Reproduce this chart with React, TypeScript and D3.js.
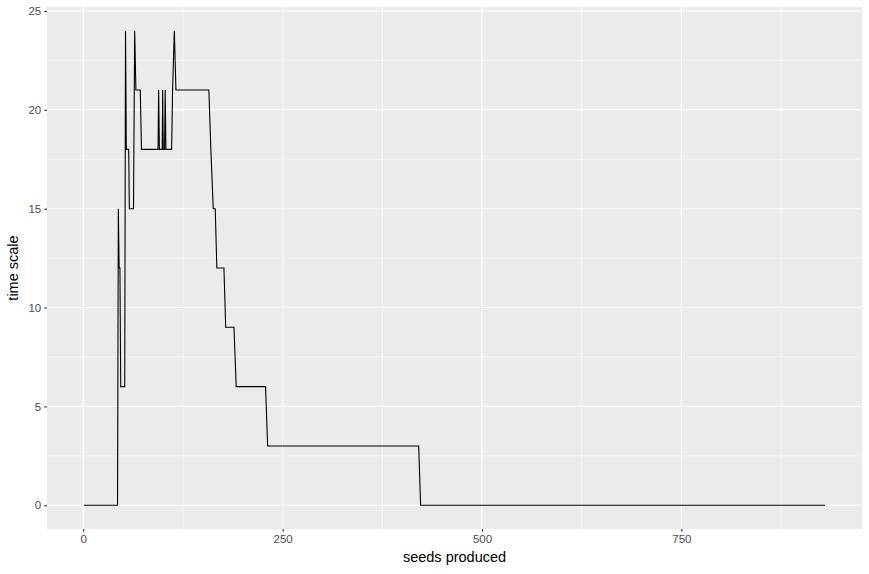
import * as d3 from "d3";
import React, { useEffect, useRef } from "react";

// seeds produced (x) vs time scale (y)
const seedsProduced: number[] = [
  1, 43, 44, 45, 46, 47, 52, 53, 54, 57, 57.8, 63, 64.5, 66, 71.5, 73,
  93.8, 94.5, 95.5, 99, 99.6, 100.4, 102, 102.8, 103.6, 110.8, 112, 114.2, 116.2,
  157.5, 160, 163, 165.5, 167.5, 176.4, 178.6, 189, 191.8, 228.6, 231.2, 420.6, 423, 930,
];
const timeScale: number[] = [
  0, 0, 15, 12, 12, 6, 6, 24, 18, 18, 15, 15, 24, 21, 21, 18,
  18, 21, 18, 18, 21, 18, 18, 21, 18, 18, 21, 24, 21,
  21, 18, 15, 15, 12, 12, 9, 9, 6, 6, 3, 3, 0, 0,
];
const xTicks = [0, 250, 500, 750];
const yTicks = [0, 5, 10, 15, 20, 25];

export default function App() {
  const ref = useRef<SVGSVGElement>(null);

  useEffect(() => {
    const W = 869, H = 574;
    const margin = { top: 7, right: 7, bottom: 45, left: 47 };
    const width = W - margin.left - margin.right;
    const height = H - margin.top - margin.bottom;

    const svg = d3.select(ref.current);
    svg.selectAll("*").remove();

    const xMin = d3.min(seedsProduced)!, xMax = d3.max(seedsProduced)!;
    const yMin = d3.min(timeScale)!, yMax = d3.max(timeScale)!;
    const xPad = (xMax - xMin) * 0.05, yPad = (yMax - yMin) * 0.05;

    const x = d3.scaleLinear().domain([xMin - xPad, xMax + xPad]).range([0, width]);
    const y = d3.scaleLinear().domain([yMin - yPad, yMax + yPad]).range([height, 0]);

    svg.append("rect").attr("width", W).attr("height", H).attr("fill", "#ffffff");

    const g = svg.append("g").attr("transform", `translate(${margin.left},${margin.top})`);
    g.append("rect").attr("width", width).attr("height", height).attr("fill", "#EBEBEB");

    // minor grid
    const xMinor = xTicks.slice(0, -1).map((t, i) => (t + xTicks[i + 1]) / 2).concat([875]);
    const yMinor = yTicks.slice(0, -1).map((t, i) => (t + yTicks[i + 1]) / 2);
    xMinor.filter(v => x(v) < width).forEach(v =>
      g.append("line").attr("x1", x(v)).attr("x2", x(v)).attr("y1", 0).attr("y2", height)
        .attr("stroke", "#fff").attr("stroke-width", 0.55));
    yMinor.forEach(v =>
      g.append("line").attr("y1", y(v)).attr("y2", y(v)).attr("x1", 0).attr("x2", width)
        .attr("stroke", "#fff").attr("stroke-width", 0.55));
    // major grid
    xTicks.forEach(v =>
      g.append("line").attr("x1", x(v)).attr("x2", x(v)).attr("y1", 0).attr("y2", height)
        .attr("stroke", "#fff").attr("stroke-width", 1.1));
    yTicks.forEach(v =>
      g.append("line").attr("y1", y(v)).attr("y2", y(v)).attr("x1", 0).attr("x2", width)
        .attr("stroke", "#fff").attr("stroke-width", 1.1));

    const pts: [number, number][] = seedsProduced.map((s, i) => [s, timeScale[i]]);
    const line = d3.line<[number, number]>().x(d => x(d[0])).y(d => y(d[1]));
    g.append("path").datum(pts).attr("d", line)
      .attr("fill", "none").attr("stroke", "#000").attr("stroke-width", 1.1)
      .attr("stroke-linejoin", "miter");

    // axes
    const xAxis = g.append("g").attr("transform", `translate(0,${height})`)
      .call(d3.axisBottom(x).tickValues(xTicks).tickSize(2.75).tickPadding(3).tickFormat(d3.format("d")) as any);
    const yAxis = g.append("g")
      .call(d3.axisLeft(y).tickValues(yTicks).tickSize(2.75).tickPadding(3).tickFormat(d3.format("d")) as any);
    [xAxis, yAxis].forEach(a => {
      a.select(".domain").remove();
      a.selectAll("line").attr("stroke", "#333").attr("stroke-width", 1.1);
      a.selectAll("text").attr("fill", "#4D4D4D").attr("font-size", 11.5)
        .attr("font-family", "'Liberation Sans', Arial, sans-serif");
    });

    svg.append("text").attr("x", margin.left + width / 2).attr("y", 562)
      .attr("text-anchor", "middle").attr("font-size", 14.5)
      .attr("font-family", "'Liberation Sans', Arial, sans-serif").attr("fill", "#000")
      .text("seeds produced");
    svg.append("text")
      .attr("transform", `translate(18,${margin.top + height / 2}) rotate(-90)`)
      .attr("text-anchor", "middle").attr("font-size", 14.5)
      .attr("font-family", "'Liberation Sans', Arial, sans-serif").attr("fill", "#000")
      .text("time scale");
  }, []);

  return (
    <svg ref={ref} width={869} height={574}
      style={{ position: "absolute", left: 0, top: 0, display: "block" }} />
  );
}
